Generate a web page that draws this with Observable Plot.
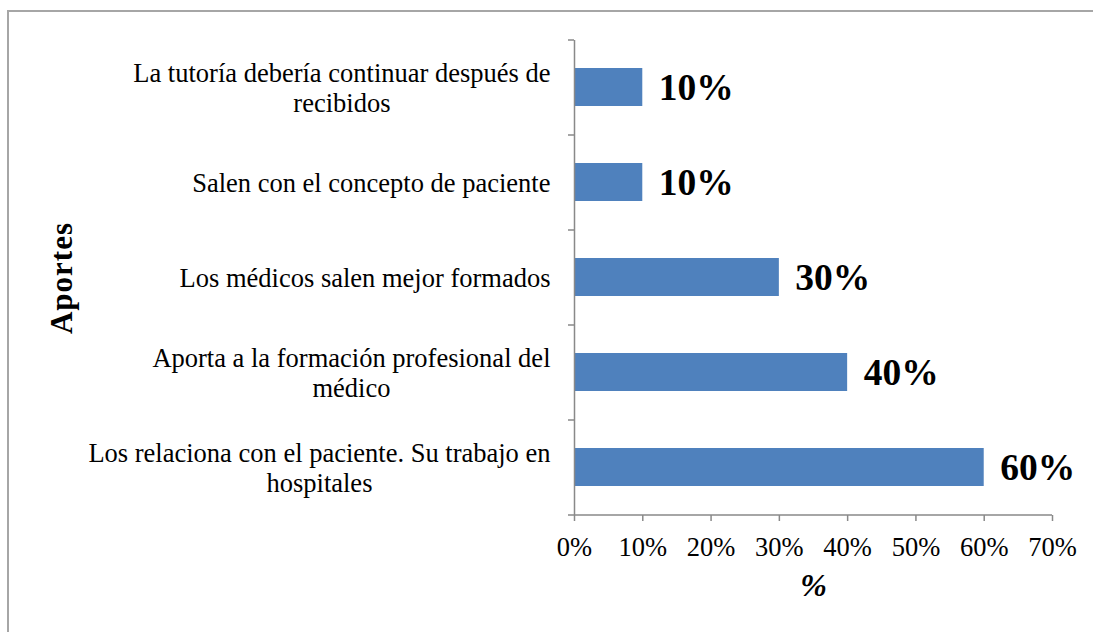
<!DOCTYPE html>
<html><head><meta charset="utf-8">
<script src="https://cdn.jsdelivr.net/npm/d3@7"></script>
<script src="https://cdn.jsdelivr.net/npm/@observablehq/plot@0.6"></script>
<style>
html,body{margin:0;padding:0;background:#fff;overflow:hidden}
#wrap{position:relative;width:1093px;height:632px;overflow:hidden}
#border{position:absolute;left:7px;top:10px;width:1300px;height:800px;border-left:2px solid #a6a6a6;border-top:2px solid #a6a6a6;box-sizing:border-box}
#chart{position:absolute;left:0;top:0}
</style></head><body><div id="wrap"><div id="border"></div><div id="chart"></div></div>
<script>
const categories = [
  "La tutoría debería continuar después de recibidos",
  "Salen con el concepto de paciente",
  "Los médicos salen mejor formados",
  "Aporta a la formación profesional del médico",
  "Los relaciona con el paciente. Su trabajo en hospitales"
];
const tickLabels = [
  "La tutoría debería continuar después de\nrecibidos",
  "Salen con el concepto de paciente",
  "Los médicos salen mejor formados",
  "Aporta a la formación profesional del\nmédico",
  "Los relaciona con el paciente. Su trabajo en\nhospitales"
];
const values = [10, 10, 30, 40, 60];
const xTicks = [0, 10, 20, 30, 40, 50, 60, 70];
const xTitle = "%";
const yTitle = "Aportes";

const data = categories.map((c, i) => ({cat: c, value: values[i]}));
const labelOf = new Map(categories.map((c, i) => [c, tickLabels[i]]));
const gray = "#898989";
const font = "'Liberation Serif', 'Times New Roman', serif";

const chart = Plot.plot({
  width: 1093, height: 632,
  marginLeft: 574, marginRight: 41, marginTop: 40, marginBottom: 117,
  style: {fontFamily: font, background: "transparent", color: "#000", overflow: "visible"},
  x: {domain: [0, 70]},
  y: {domain: categories, paddingInner: 0.6, paddingOuter: 0.3},
  marks: [
    Plot.barX(data, {y: "cat", x: "value", fill: "#4f81bd"}),
    Plot.ruleX([0], {stroke: gray, strokeWidth: 1.5}),
    Plot.ruleY(data, {y: "cat", dy: -47.5, x1: -0.88, x2: 0, stroke: gray, strokeWidth: 1.5}),
    Plot.ruleY([categories[categories.length - 1]], {y: d => d, dy: 47.5, x1: -0.88, x2: 70, stroke: gray, strokeWidth: 1.5}),
    Plot.axisX({ticks: xTicks, tickFormat: d => d + "%", tickSize: 6, tickPadding: 16, stroke: gray, strokeWidth: 1.5, fill: "#000", fontSize: 26.5, label: null}),
    Plot.axisY({tickSize: 0, tickPadding: 24, tickFormat: d => labelOf.get(d), textAnchor: "middle", fontSize: 26.5, lineHeight: 1.13, fill: "#000", label: null}),
    Plot.text(data, {y: "cat", x: "value", text: d => d.value + "%", textAnchor: "start", dx: 16, fontSize: 37.5, fontWeight: "bold", fill: "#000"}),
    Plot.text([yTitle], {text: d => d, frameAnchor: "left", dx: -512, rotate: -90, textAnchor: "middle", fontSize: 31, fontWeight: "bold", fill: "#000"}),
    Plot.text([xTitle], {text: d => d, frameAnchor: "bottom", dy: 80, fontSize: 32, fontWeight: "bold", fontStyle: "italic", fill: "#000"})
  ]
});
document.getElementById("chart").append(chart);

// letter spacing for the rotated axis title
d3.select(chart).selectAll("text").filter(function() { return this.textContent === yTitle; })
  .attr("letter-spacing", "1px");

// right-align each wrapped label block while keeping its lines centred
d3.select(chart).selectAll('g[aria-label="y-axis tick label"] text').each(function() {
  const t = this.getAttribute("transform") || "";
  const m = /translate\(([-\d.e]+),\s*([-\d.e]+)\)/.exec(t);
  if (!m) return;
  const x = +m[1], y = +m[2];
  const w = this.getBBox().width;
  this.setAttribute("transform", `translate(${x - w / 2},${y})`);
});
</script>
</body></html>
